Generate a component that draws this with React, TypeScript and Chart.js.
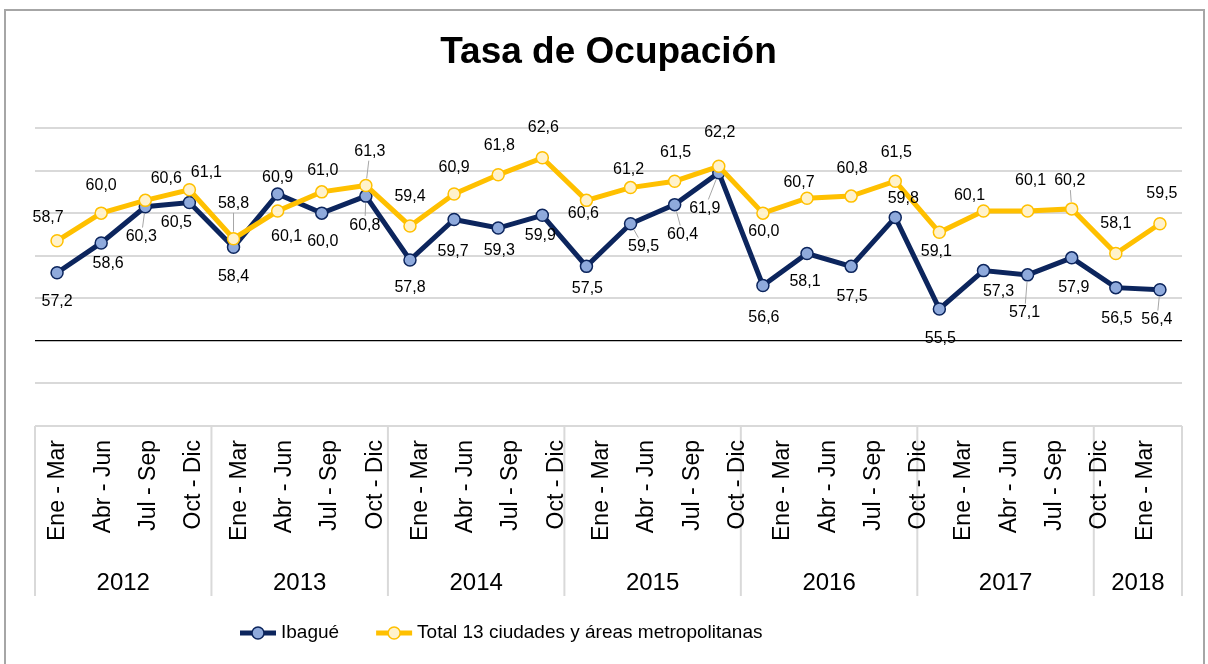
import React, { useEffect, useRef } from 'react';
import { Chart, registerables } from 'chart.js';

Chart.register(...registerables);

const FONT = "'Liberation Sans', Arial, Helvetica, sans-serif";

// ---- data ----
const periods = [
  'Ene - Mar 2012', 'Abr - Jun 2012', 'Jul - Sep 2012', 'Oct - Dic 2012',
  'Ene - Mar 2013', 'Abr - Jun 2013', 'Jul - Sep 2013', 'Oct - Dic 2013',
  'Ene - Mar 2014', 'Abr - Jun 2014', 'Jul - Sep 2014', 'Oct - Dic 2014',
  'Ene - Mar 2015', 'Abr - Jun 2015', 'Jul - Sep 2015', 'Oct - Dic 2015',
  'Ene - Mar 2016', 'Abr - Jun 2016', 'Jul - Sep 2016', 'Oct - Dic 2016',
  'Ene - Mar 2017', 'Abr - Jun 2017', 'Jul - Sep 2017', 'Oct - Dic 2017',
  'Ene - Mar 2018', 'Abr - Jun 2018',
];

const ibague = [
  57.2, 58.6, 60.3, 60.5, 58.4, 60.9, 60.0, 60.8, 57.8, 59.7, 59.3, 59.9, 57.5,
  59.5, 60.4, 61.9, 56.6, 58.1, 57.5, 59.8, 55.5, 57.3, 57.1, 57.9, 56.5, 56.4,
];

const total13 = [
  58.7, 60.0, 60.6, 61.1, 58.8, 60.1, 61.0, 61.3, 59.4, 60.9, 61.8, 62.6, 60.6,
  61.2, 61.5, 62.2, 60.0, 60.7, 60.8, 61.5, 59.1, 60.1, 60.1, 60.2, 58.1, 59.5,
];

const quarterTicks = [
  'Ene - Mar', 'Abr - Jun', 'Jul - Sep', 'Oct - Dic',
  'Ene - Mar', 'Abr - Jun', 'Jul - Sep', 'Oct - Dic',
  'Ene - Mar', 'Abr - Jun', 'Jul - Sep', 'Oct - Dic',
  'Ene - Mar', 'Abr - Jun', 'Jul - Sep', 'Oct - Dic',
  'Ene - Mar', 'Abr - Jun', 'Jul - Sep', 'Oct - Dic',
  'Ene - Mar', 'Abr - Jun', 'Jul - Sep', 'Oct - Dic',
  'Ene - Mar',
];

const years = ['2012', '2013', '2014', '2015', '2016', '2017', '2018'];
const yearSpans = [4, 4, 4, 4, 4, 4, 2];

const seriesNames = ['Ibagué', 'Total 13 ciudades y áreas metropolitanas'];

const yMin = 50;
const yMax = 64;
const yStep = 2;
const axisCross = 54;

// ---- label placement (style) ----
const ibagueLabelOffsets = [
  [0, 29], [7, 21], [-4, 30], [-13, 20], [0, 29], [0, -16], [1, 28], [-1, 29],
  [0, 28], [-1, 32], [1, 23], [-2, 20], [1, 22], [13, 23], [8, 30], [-14, 36],
  [1, 32], [-2, 28], [1, 30], [8, -19], [1, 30], [15, 21], [-3, 38], [2, 30],
  [1, 31], [-3, 30],
];
const totalLabelOffsets = [
  [-9, -23], [0, -28], [21, -22], [17, -17], [0, -35], [9, 26], [1, -21], [4, -34],
  [0, -29], [0, -26], [1, -29], [1, -30], [-3, 13], [-2, -18], [1, -29], [1, -34],
  [1, 18], [-8, -16], [1, -28], [1, -29], [-3, 19], [-14, -15], [3, -30], [-2, -28],
  [0, -30], [2, -30],
];
const ibagueLeaders = [2, 7, 13, 14, 15, 22, 25];
const totalLeaders = [4, 7, 23];

const NAVY = '#0c255d';
const NAVY_FILL = '#8faadc';
const GOLD = '#ffc000';
const GOLD_FILL = '#fff2cc';

const fmt = (v: number) => v.toFixed(1).replace('.', ',');

const pointLabelsPlugin = {
  id: 'pointLabels',
  afterDatasetsDraw(chart: any, _a: any, opts: any) {
    const ctx = chart.ctx;
    ctx.save();
    ctx.font = `${opts.size}px ${FONT}`;
    ctx.textAlign = 'center';
    ctx.textBaseline = 'middle';
    chart.data.datasets.forEach((ds: any, di: number) => {
      const meta = chart.getDatasetMeta(di);
      const offs = opts.offsets[di];
      const leaders = opts.leaders[di];
      meta.data.forEach((pt: any, i: number) => {
        const v = ds.data[i];
        const [dx, dy] = offs[i];
        const lx = pt.x + dx;
        const ly = pt.y + dy;
        const text = fmt(v);
        if (leaders.includes(i)) {
          const hw = ctx.measureText(text).width / 2 + 2;
          const hh = opts.size * 0.45 + 2;
          const len = Math.hypot(dx, dy);
          const s = Math.min(
            dx !== 0 ? hw / Math.abs(dx) : Infinity,
            dy !== 0 ? hh / Math.abs(dy) : Infinity,
          );
          const ex = lx - dx * s;
          const ey = ly - dy * s;
          const sx = pt.x + (dx / len) * 7;
          const sy = pt.y + (dy / len) * 7;
          ctx.strokeStyle = '#a6a6a6';
          ctx.lineWidth = 1;
          ctx.beginPath();
          ctx.moveTo(sx, sy);
          ctx.lineTo(ex, ey);
          ctx.stroke();
        }
        ctx.fillStyle = '#000';
        ctx.fillText(text, lx, ly);
      });
    });
    ctx.restore();
  },
};

const yearAxisPlugin = {
  id: 'yearAxis',
  beforeDraw(chart: any, _a: any, opts: any) {
    const ctx = chart.ctx;
    const x = chart.scales.x;
    const bottom = chart.chartArea.bottom;
    const slot = x.getPixelForValue(1) - x.getPixelForValue(0);
    ctx.save();
    ctx.strokeStyle = '#d9d9d9';
    ctx.lineWidth = 2;
    ctx.font = `${opts.size}px ${FONT}`;
    ctx.fillStyle = '#000';
    ctx.textAlign = 'center';
    ctx.textBaseline = 'middle';
    const edges: number[] = [];
    let s = 0;
    yearSpans.forEach((n, k) => {
      edges.push(x.getPixelForValue(s) - slot / 2);
      const c = (x.getPixelForValue(s) + x.getPixelForValue(s + n - 1)) / 2;
      ctx.fillText(years[k], c, bottom + opts.labelOffset);
      s += n;
    });
    edges.push(x.getPixelForValue(s - 1) + slot / 2);
    edges.forEach((e) => {
      ctx.beginPath();
      ctx.moveTo(e, bottom);
      ctx.lineTo(e, bottom + opts.lineLength);
      ctx.stroke();
    });
    ctx.restore();
  },
};

const legendPlugin = {
  id: 'lineLegend',
  afterDraw(chart: any, _a: any, opts: any) {
    const ctx = chart.ctx;
    ctx.save();
    ctx.font = `${opts.size}px ${FONT}`;
    ctx.textBaseline = 'middle';
    ctx.textAlign = 'left';
    let cx = opts.x;
    const y = opts.y;
    chart.data.datasets.forEach((ds: any) => {
      ctx.strokeStyle = ds.borderColor;
      ctx.lineWidth = ds.borderWidth;
      ctx.beginPath();
      ctx.moveTo(cx, y);
      ctx.lineTo(cx + opts.lineWidth, y);
      ctx.stroke();
      ctx.beginPath();
      ctx.arc(cx + opts.lineWidth / 2, y, ds.pointRadius, 0, Math.PI * 2);
      ctx.fillStyle = ds.pointBackgroundColor;
      ctx.fill();
      ctx.lineWidth = ds.pointBorderWidth;
      ctx.strokeStyle = ds.pointBorderColor;
      ctx.stroke();
      ctx.fillStyle = '#000';
      const tx = cx + opts.lineWidth + opts.gap;
      ctx.fillText(ds.label, tx, y);
      cx = tx + ctx.measureText(ds.label).width + opts.itemGap;
    });
    ctx.restore();
  },
};

export default function App() {
  const canvasRef = useRef<HTMLCanvasElement | null>(null);

  useEffect(() => {
    if (!canvasRef.current) return;
    Chart.defaults.font.family = FONT;
    const chart = new Chart(canvasRef.current, {
      type: 'line',
      data: {
        labels: periods,
        datasets: [
          {
            label: seriesNames[0],
            data: ibague,
            borderColor: NAVY,
            borderWidth: 5,
            pointRadius: 6,
            pointBackgroundColor: NAVY_FILL,
            pointBorderColor: NAVY,
            pointBorderWidth: 1.5,
            tension: 0,
            order: 1,
          },
          {
            label: seriesNames[1],
            data: total13,
            borderColor: GOLD,
            borderWidth: 5,
            pointRadius: 6,
            pointBackgroundColor: GOLD_FILL,
            pointBorderColor: GOLD,
            pointBorderWidth: 1.5,
            tension: 0,
            order: 0,
          },
        ],
      },
      options: {
        responsive: false,
        animation: false,
        layout: { padding: { left: 35, right: 26, top: 0, bottom: 118 } },
        scales: {
          x: {
            type: 'category',
            display: false,
            offset: true,
          },
          x2: {
            type: 'linear',
            position: 'bottom',
            min: -0.51,
            max: 24.81,
            grid: { display: false, drawTicks: false },
            border: { display: false },
            afterBuildTicks: (s: any) => {
              s.ticks = quarterTicks.map((_, i) => ({ value: i }));
            },
            afterFit: (s: any) => {
              s.height = 120;
              s.paddingLeft = 0;
              s.paddingRight = 0;
            },
            ticks: {
              autoSkip: false,
              minRotation: 90,
              maxRotation: 90,
              padding: 14,
              color: '#000',
              font: { size: 23, family: FONT },
              callback: (v: any) => quarterTicks[Math.round(v)] ?? '',
            },
          },
          y: {
            min: yMin,
            max: yMax,
            ticks: { display: false, stepSize: yStep },
            border: { display: false },
            grid: {
              drawTicks: false,
              color: (c: any) => (c.tick && c.tick.value === axisCross ? '#000000' : '#d9d9d9'),
              lineWidth: (c: any) => (c.tick && c.tick.value === axisCross ? 1.2 : 2),
            },
          },
        },
        plugins: {
          legend: { display: false },
          tooltip: { enabled: false },
          title: {
            display: true,
            text: 'Tasa de Ocupación',
            color: '#000',
            font: { size: 37, weight: 'bold', family: FONT, lineHeight: 1.2 },
            padding: { top: 31, bottom: 52.6 },
          },
          pointLabels: {
            size: 16,
            offsets: [ibagueLabelOffsets, totalLabelOffsets],
            leaders: [ibagueLeaders, totalLeaders],
          },
          yearAxis: { size: 24, labelOffset: 157, lineLength: 170 },
          lineLegend: { x: 240, y: 633, size: 19, lineWidth: 36, gap: 5, itemGap: 37 },
        } as any,
      },
      plugins: [pointLabelsPlugin, yearAxisPlugin, legendPlugin],
    } as any);
    return () => chart.destroy();
  }, []);

  return (
    <div
      style={{
        position: 'fixed',
        left: 0,
        top: 0,
        width: 1208,
        height: 664,
        overflow: 'hidden',
        background: '#fff',
      }}
    >
      <div
        style={{
          position: 'absolute',
          left: 4,
          top: 9,
          width: 1201,
          height: 720,
          border: '2px solid #a6a6a6',
          boxSizing: 'border-box',
        }}
      />
      <canvas
        ref={canvasRef}
        width={1208}
        height={664}
        style={{ position: 'absolute', left: 0, top: 0, width: 1208, height: 664 }}
      />
    </div>
  );
}
